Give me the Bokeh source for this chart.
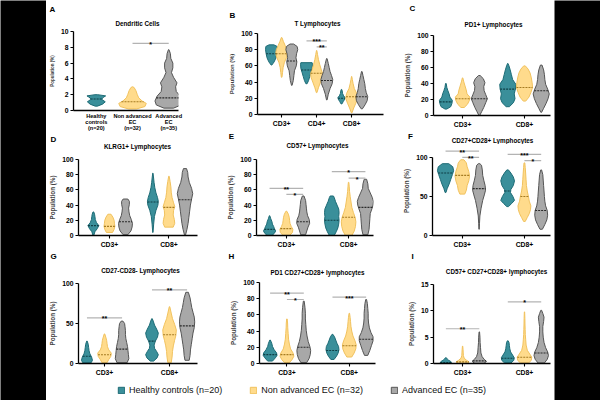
import numpy as np
from bokeh.plotting import figure
from bokeh.layouts import row, column
from bokeh.models import Range1d, FixedTicker, Legend, LegendItem
from bokeh.core.properties import value
from bokeh.embed import file_html
from bokeh.resources import INLINE

# ---------------- data ----------------
series = ["Healthy controls (n=20)", "Non advanced EC (n=32)", "Advanced EC (n=35)"]

# Panel A: Dendritic Cells (one violin per category): (value, relative half-width)
A_categories = ["Healthy\ncontrols\n(n=20)", "Non advanced\nEC\n(n=32)", "Advanced\nEC\n(n=35)"]
A_violins = {
    "all": [
        [(0.55, .08), (0.8, .45), (1.1, .65), (1.4, .4), (1.6, .45), (1.85, .68), (2.0, .1)],
        [(0.2, .3), (0.5, .9), (0.9, 1.0), (1.2, .7), (1.6, .45), (2.0, .35), (2.5, .25), (2.9, .12), (3.0, .02)],
        [(0.3, .35), (0.7, .9), (1.2, 1.0), (1.8, .85), (2.4, .55), (3.0, .5), (3.5, .6), (4.2, .35),
         (4.8, .2), (5.4, .3), (6.0, .3), (6.6, .15), (7.2, .12), (7.7, .02)],
    ]
}
A_medians = {"all": [1.45, 1.1, 1.6]}
A_sig = [("all", 1, 2, 8.5, "*")]

# Panel B: T Lymphocytes
B_groups = ["CD3+", "CD4+", "CD8+"]
B_violins = {
    "CD3+": [
        [(61, .05), (65, .45), (70, .75), (75, .9), (80, 1.0), (84, .95), (86, .4)],
        [(46, .05), (52, .15), (58, .25), (64, .45), (70, .8), (75, 1.0), (80, .9), (85, .6), (90, .3), (95, .05)],
        [(36, .05), (42, .25), (48, .35), (54, .45), (60, .75), (65, .85), (70, .7), (75, .8), (80, 1.0), (84, .9), (87, .3)],
    ],
    "CD4+": [
        [(38, .1), (42, .35), (47, .55), (52, .75), (57, .95), (62, 1.0), (64, .95)],
        [(27, .05), (33, .3), (40, .65), (46, .95), (51, 1.0), (56, .75), (62, .5), (68, .3), (74, .15), (79, .03)],
        [(18, .05), (25, .25), (32, .55), (38, .9), (43, 1.0), (48, .8), (53, .55), (58, .4), (63, .25), (69, .05)],
    ],
    "CD8+": [
        [(13, .06), (16, .3), (19, .55), (21, .6), (23, .36), (26, .18), (29, .12), (31, .03)],
        [(2, .05), (8, .35), (14, .7), (20, 1.0), (26, .85), (32, .45), (38, .25), (43, .12), (47, .02)],
        [(7, .1), (12, .55), (17, .9), (22, 1.0), (27, .75), (32, .6), (38, .5), (43, .35), (48, .2), (53, .05)],
    ],
}
B_medians = {"CD3+": [75, 75, 66], "CD4+": [55, 51, 42], "CD8+": [20, 22, 22]}
B_sig = [("CD4+", 0, 2, 91, "***"), ("CD4+", 1, 2, 83.5, "**")]

# Panel C: PD1+ Lymphocytes
C_groups = ["CD3+", "CD8+"]
C_violins = {
    "CD3+": [
        [(8, .1), (11, .6), (15, .75), (19, .8), (23, .5), (27, .4), (31, .25), (35, .12), (40, .04)],
        [(10, .2), (14, .6), (19, .85), (23, .9), (27, .55), (32, .45), (37, .3), (42, .15), (47, .03)],
        [(0, .05), (5, .3), (10, .55), (16, .8), (21, 1.0), (26, .8), (31, .6), (36, .55), (41, .7), (46, .5), (50, .1)],
    ],
    "CD8+": [
        [(11, .2), (16, .7), (21, .9), (27, .8), (33, .95), (39, 1.0), (45, .6), (51, .45), (57, .3), (62, .15), (65, .03)],
        [(18, .15), (23, .55), (29, .8), (35, 1.0), (41, .95), (47, .85), (53, .7), (58, .45), (62, .1)],
        [(4, .05), (9, .3), (15, .6), (21, .85), (27, 1.0), (33, .8), (39, .55), (45, .45), (51, .4), (57, .3), (63, .1)],
    ],
}
C_medians = {"CD3+": [17, 21, 21], "CD8+": [33, 35, 31]}
C_sig = []

# Panel D: KLRG1+ Lymphocytes
D_groups = ["CD3+", "CD8+"]
D_violins = {
    "CD3+": [
        [(0, .05), (5, .2), (9, .5), (13, .7), (17, .4), (21, .25), (25, .2), (28, .15), (31, .05)],
        [(4, .4), (8, .6), (12, .7), (16, .65), (20, .6), (24, .45), (28, .2)],
        [(1, .3), (6, .7), (11, .85), (16, .9), (21, .75), (26, .55), (31, .45), (36, .4), (41, .5), (45, .5), (48, .3)],
    ],
    "CD8+": [
        [(4, .02), (15, .1), (25, .2), (33, .4), (40, .65), (45, .7), (50, .6), (56, .4), (63, .25), (70, .15), (77, .08), (82, .02)],
        [(11, .55), (16, .75), (21, .7), (27, .55), (33, .6), (38, .75), (43, .6), (50, .4), (57, .3), (64, .25), (71, .15), (78, .03)],
        [(0, .05), (8, .25), (16, .4), (24, .5), (32, .6), (40, .7), (48, .85), (55, 1.0), (62, .85), (70, .55), (77, .4), (83, .35), (88, .2)],
    ],
}
D_medians = {"CD3+": [13, 12, 18], "CD8+": [44, 37, 47]}
D_sig = []

# Panel E: CD57+ Lymphocytes
E_groups = ["CD3+", "CD8+"]
E_violins = {
    "CD3+": [
        [(0, .3), (3, .6), (6, .75), (9, .6), (12, .5), (15, .35), (18, .3), (22, .15), (26, .03)],
        [(0, .4), (4, .75), (8, .8), (12, .6), (16, .45), (20, .4), (24, .35), (28, .25), (32, .05)],
        [(1, .3), (6, .45), (11, .6), (16, .8), (21, .75), (26, .55), (31, .45), (36, .4), (41, .35), (46, .3), (52, .1)],
    ],
    "CD8+": [
        [(0, .3), (5, .55), (10, .75), (15, .85), (20, .9), (25, .85), (30, .9), (35, .85), (40, .65), (45, .45), (50, .3), (52, .2)],
        [(0, .4), (6, .7), (12, .85), (18, .9), (24, .8), (30, .6), (37, .4), (44, .3), (51, .2), (58, .12), (64, .08), (70, .03)],
        [(1, .3), (8, .45), (15, .5), (22, .55), (29, .6), (35, .8), (40, .95), (45, 1.0), (50, .85), (56, .6), (62, .35), (68, .3), (74, .15)],
    ],
}
E_medians = {"CD3+": [8, 9, 18], "CD8+": [20, 24, 37]}
E_sig = [("CD3+", 0, 2, 62, "**"), ("CD3+", 1, 2, 54, "*"), ("CD8+", 0, 2, 84, "*"), ("CD8+", 1, 2, 75.6, "*")]

# Panel F: CD27+CD28+ Lymphocytes
F_groups = ["CD3+", "CD8+"]
F_violins = {
    "CD3+": [
        [(55, .05), (60, .2), (66, .45), (72, .65), (78, .85), (83, 1.0), (88, .9), (92, .4)],
        [(53, .3), (58, .5), (64, .6), (70, .8), (76, .9), (82, .8), (88, .6), (93, .5), (97, .2)],
        [(8, .02), (15, .05), (25, .1), (35, .25), (45, .45), (52, .65), (58, .8), (64, .75), (70, .6), (77, .45), (84, .4), (90, .3), (92, .1)],
    ],
    "CD8+": [
        [(37, .1), (41, .5), (45, .85), (50, .65), (55, .35), (59, .4), (64, .7), (70, .85), (75, .7), (80, .4), (84, .1)],
        [(18, .1), (23, .35), (28, .6), (33, .75), (38, .8), (44, .6), (50, .5), (57, .35), (64, .25), (72, .2), (80, .15), (87, .1), (93, .05)],
        [(8, .15), (14, .45), (20, .7), (26, .8), (32, .75), (38, .55), (44, .45), (50, .4), (57, .35), (64, .3), (71, .25), (78, .2), (84, .05)],
    ],
}
F_medians = {"CD3+": [80, 77, 60], "CD8+": [57, 50, 32]}
F_sig = [("CD3+", 0, 2, 108, "**"), ("CD3+", 1, 2, 100, "**"), ("CD8+", 0, 2, 104, "***"), ("CD8+", 1, 2, 96, "*")]

# Panel G: CD27-CD28- Lymphocytes
G_groups = ["CD3+", "CD8+"]
G_violins = {
    "CD3+": [
        [(1, .5), (4, .65), (8, .55), (12, .35), (16, .25), (20, .2), (24, .15), (28, .03)],
        [(1, .3), (5, .5), (9, .75), (13, .8), (17, .5), (21, .35), (25, .3), (29, .25), (33, .15), (37, .03)],
        [(1, .6), (6, .8), (11, .75), (16, .7), (21, .65), (26, .55), (31, .45), (36, .4), (41, .4), (46, .35), (50, .3), (53, .1)],
    ],
    "CD8+": [
        [(3, .2), (7, .6), (11, .75), (15, .55), (19, .3), (23, .25), (28, .4), (33, .65), (38, .75), (43, .55), (48, .3), (53, .15), (56, .03)],
        [(1, .2), (8, .3), (15, .35), (22, .45), (29, .6), (35, .75), (42, .8), (49, .6), (56, .35), (63, .2), (71, .03)],
        [(4, .25), (10, .35), (17, .4), (24, .5), (31, .6), (38, .7), (45, .85), (52, .9), (58, .85), (64, .7), (70, .55), (76, .45), (82, .35), (89, .15)],
    ],
}
G_medians = {"CD3+": [9, 11, 18], "CD8+": [28, 36, 47]}
G_sig = [("CD3+", 0, 2, 57, "**"), ("CD8+", 0, 2, 92, "**")]

# Panel H: PD1 CD27+CD28+ lymphocytes
H_groups = ["CD3+", "CD8+"]
H_violins = {
    "CD3+": [
        [(3, .3), (7, .65), (10, .85), (13, .8), (17, .5), (21, .3), (25, .2), (29, .03)],
        [(1, .3), (5, .65), (9, .85), (13, .75), (18, .45), (24, .3), (30, .2), (37, .15), (44, .1), (50, .08), (55, .03)],
        [(1, .35), (6, .65), (11, .8), (16, .85), (21, .75), (27, .55), (34, .4), (41, .3), (48, .25), (55, .2), (62, .2), (69, .15), (77, .05)],
    ],
    "CD8+": [
        [(5, .2), (9, .5), (13, .7), (17, .8), (21, .75), (25, .55), (29, .4), (33, .25), (36, .05)],
        [(8, .3), (13, .6), (18, .8), (23, .85), (28, .7), (34, .45), (40, .3), (46, .2), (52, .15), (57, .1), (62, .03)],
        [(10, .2), (16, .45), (22, .65), (28, .85), (33, .85), (38, .6), (44, .4), (50, .3), (56, .25), (62, .25), (68, .2), (74, .15), (79, .05)],
    ],
}
H_medians = {"CD3+": [11, 11, 20], "CD8+": [16, 22, 30]}
H_sig = [("CD3+", 0, 2, 87, "**"), ("CD3+", 1, 2, 79, "*"), ("CD8+", 0, 2, 82, "***")]

# Panel I: CD57+ CD27+CD28+ lymphocytes
I_groups = ["CD3+", "CD8+"]
I_violins = {
    "CD3+": [
        [(0, .5), (0.2, .7), (0.4, .6), (0.6, .35), (0.8, .2), (1.1, .05)],
        [(0, .5), (0.3, .8), (0.6, .5), (1.0, .2), (1.5, .1), (2.0, .08), (2.6, .06), (3.3, .02)],
        [(0, .55), (0.4, .9), (0.8, .6), (1.3, .35), (2.0, .2), (3.0, .15), (4.0, .1), (5.0, .08), (6.0, .03)],
    ],
    "CD8+": [
        [(0.1, .4), (0.6, .75), (1.1, .8), (1.6, .6), (2.2, .35), (2.8, .25), (3.4, .2), (4.0, .15), (4.3, .05)],
        [(0.1, .5), (0.6, .85), (1.2, .9), (1.8, .65), (2.5, .35), (3.5, .2), (4.5, .15), (5.5, .1), (6.5, .08), (7.5, .06), (8.5, .05), (9.8, .02)],
        [(0.1, .4), (0.8, .75), (1.5, .9), (2.2, .8), (3.0, .55), (4.0, .35), (5.0, .25), (6.0, .2), (7.0, .2), (8.0, .3), (8.8, .35), (9.5, .2), (10.1, .05)],
    ],
}
I_medians = {"CD3+": [0.2, 0.3, 0.5], "CD8+": [1.0, 1.2, 2.0]}
I_sig = [("CD3+", 0, 2, 6.6, "**"), ("CD8+", 0, 2, 11.7, "*")]

# ---------------- styling ----------------
FILL = ["#3a8f9a", "#ffdb8c", "#a8a8a8"]
LINE = ["#1d6b75", "#f1c25e", "#555555"]
MED = ["#0e3f46", "#a57b22", "#2a2a2a"]
FONT = "Liberation Sans"


def blank(w, h, color="white"):
    b = figure(width=w, height=h, output_backend="svg", toolbar_location=None, min_border=0, title=None,
               x_range=Range1d(0, w), y_range=Range1d(h, 0), x_axis_location=None, y_axis_location=None)
    b.frame_align = False
    b.grid.visible = False
    b.outline_line_color = None
    b.background_fill_color = color
    b.border_fill_color = color
    return b


def make_panel(cfg):
    ox, oy, w, h, ml, mr, mt, mb = cfg["geom"]
    s = cfg["strip"]          # height of the heading strip above the plot
    # heading strip: panel letter + panel title (pixel-based ranges, y downward)
    st = blank(w, s)
    lx, ly = cfg["letter_xy"]
    tx_, ty_ = cfg["title_xy"]
    st.text(x=[lx - ox], y=[ly - oy], text=[cfg["letter"]], text_font=value(FONT), text_font_style="bold",
            text_font_size="8px", text_align="center", text_baseline="middle", text_color="black")
    st.text(x=[tx_ - ox], y=[ty_ - oy], text=[cfg["title"]], text_font=value(FONT), text_font_style="bold",
            text_font_size="6.3px", text_align="center", text_baseline="middle", text_color="black")

    p = figure(width=w, height=h - s, output_backend="svg", toolbar_location=None, title=None,
               x_range=Range1d(*cfg["xr"]), y_range=Range1d(0, cfg["ytop"]),
               min_border_left=ml, min_border_right=mr, min_border_top=mt - s, min_border_bottom=mb)
    p.frame_align = False
    p.outline_line_color = None
    p.grid.visible = False
    p.background_fill_color = "white"
    p.border_fill_color = "white"

    groups, violins, medians = cfg["groups"], cfg["violins"], cfg["medians"]

    def xpos(gi, mi):
        if cfg["single"]:
            return 1 + mi
        return 1 + gi + (mi - 1) * cfg["off"]

    xs_all, ys_all, fills, lines = [], [], [], []
    mx0, mx1, my, mc = [], [], [], []
    for gi, g in enumerate(groups):
        for mi, prof in enumerate(violins[g]):
            cx = xpos(gi, mi)
            yv = [a for a, b in prof]
            wv = [b * cfg["halfw"] for a, b in prof]
            xs_all.append([cx + q for q in wv] + [cx - q for q in wv[::-1]])
            ys_all.append(yv + yv[::-1])
            fills.append(FILL[mi])
            lines.append(LINE[mi])
            med = medians[g][mi]
            wm = float(np.interp(med, yv, wv))
            mx0.append(cx - wm)
            mx1.append(cx + wm)
            my.append(med)
            mc.append(MED[mi])
    p.patches(xs_all, ys_all, fill_color=fills, line_color=lines, line_width=1)
    p.segment(x0=mx0, y0=my, x1=mx1, y1=my, line_color=mc, line_width=1.1, line_dash="2 1")

    # significance bars
    sx0, sx1, sy, tx, tl = [], [], [], [], []
    for g, m1, m2, yv, lab in cfg["sig"]:
        gi = groups.index(g)
        a, b = xpos(gi, m1), xpos(gi, m2)
        sx0.append(a); sx1.append(b); sy.append(yv)
        tx.append((a + b) / 2); tl.append(lab)
    if sx0:
        p.segment(x0=sx0, y0=sy, x1=sx1, y1=sy, line_color="#b3b3b3", line_width=1.2)
        p.text(x=tx, y=sy, text=tl, text_align="center", text_baseline="alphabetic", text_font=value(FONT),
               text_font_size="7px", text_font_style="bold", text_color="black", y_offset=1)

    # axes
    ax, ay = p.xaxis[0], p.yaxis[0]
    for a in (ax, ay):
        a.axis_line_color = "black"
        a.axis_line_width = 1.3
        a.major_tick_line_color = "black"
        a.major_tick_line_width = 1.1
        a.major_tick_in = 0
        a.major_tick_out = 3
        a.minor_tick_line_color = None
        a.major_label_text_font = FONT
        a.major_label_text_font_style = "bold"
        a.major_label_text_color = "black"
    ay.ticker = FixedTicker(ticks=cfg["yticks"])
    ay.bounds = (0, cfg["yaxis_top"])
    ay.major_label_text_font_size = "6.8px"
    ay.major_label_standoff = 2
    ay.axis_label = "Population (%)"
    ay.axis_label_text_font = FONT
    ay.axis_label_text_font_style = "bold"
    ay.axis_label_text_font_size = cfg["ylab_size"]
    ay.axis_label_standoff = 3
    if cfg["single"]:
        ax.ticker = FixedTicker(ticks=[1, 2, 3])
        ax.major_label_overrides = {i + 1: c for i, c in enumerate(cfg["cats"])}
        ax.major_label_text_font_size = "5.6px"
        ax.major_label_text_line_height = 1.0
        ax.major_tick_out = 0
    else:
        ax.ticker = FixedTicker(ticks=[i + 1 for i in range(len(groups))])
        ax.major_label_overrides = {i + 1: g for i, g in enumerate(groups)}
        ax.major_label_text_font_size = "6.8px"
    ax.major_label_standoff = 2
    return [st, p]


common2 = dict(single=False, off=0.27, halfw=0.13, ylab_size="6.3px")
cfgs = {
    "A": dict(single=True, groups=["all"], violins=A_violins, medians=A_medians, sig=A_sig, cats=A_categories,
              halfw=0.38, xr=(0.37, 3.27), ytop=10, yaxis_top=10, yticks=[0, 2, 4, 6, 8, 10], ylab_size="4.5px",
              geom=(46, 0, 169, 135, 26, 37, 31, 25), strip=27, letter="A", letter_xy=(52, 9),
              title="Dendritic Cells", title_xy=(137, 23)),
    "B": dict(single=False, off=0.29, halfw=0.17, groups=B_groups, violins=B_violins, medians=B_medians, sig=B_sig,
              xr=(0.31, 3.91), ytop=100, yaxis_top=100, yticks=[0, 20, 40, 60, 80, 100], ylab_size="5.8px",
              geom=(215, 0, 177, 131, 42, 9, 33, 17), strip=28, letter="B", letter_xy=(232, 15),
              title="T Lymphocytes", title_xy=(317, 23)),
    "C": dict(common2, groups=C_groups, violins=C_violins, medians=C_medians, sig=C_sig,
              xr=(0.53, 2.42), ytop=100, yaxis_top=100, yticks=[0, 20, 40, 60, 80, 100],
              geom=(392, 0, 162, 131, 41, 4, 35, 16), strip=30, letter="C", letter_xy=(412, 8),
              title="PD1+ Lymphocytes", title_xy=(493, 24)),
    "D": dict(common2, groups=D_groups, violins=D_violins, medians=D_medians, sig=D_sig,
              xr=(0.48, 2.48), ytop=100, yaxis_top=100, yticks=[0, 20, 40, 60, 80, 100],
              geom=(46, 135, 169, 115, 27, 18, 24, 12), strip=19, letter="D", letter_xy=(53, 139),
              title="KLRG1+ Lymphocytes", title_xy=(137, 146)),
    "E": dict(common2, groups=E_groups, violins=E_violins, medians=E_medians, sig=E_sig,
              xr=(0.52, 2.40), ytop=100, yaxis_top=100, yticks=[0, 20, 40, 60, 80, 100],
              geom=(215, 131, 177, 119, 41, 19, 28, 12), strip=23, letter="E", letter_xy=(231, 136),
              title="CD57+ Lymphocytes", title_xy=(317, 145)),
    "F": dict(common2, groups=F_groups, violins=F_violins, medians=F_medians, sig=F_sig,
              xr=(0.52, 2.42), ytop=114, yaxis_top=100, yticks=[0, 50, 100],
              geom=(392, 131, 162, 119, 40, 4, 15, 13), strip=13, letter="F", letter_xy=(410, 136),
              title="CD27+CD28+ Lymphocytes", title_xy=(492, 140)),
    "G": dict(common2, groups=G_groups, violins=G_violins, medians=G_medians, sig=G_sig,
              xr=(0.6, 2.43), ytop=100, yaxis_top=100, yticks=[0, 50, 100],
              geom=(46, 250, 169, 131, 32, 18, 33, 18), strip=28, letter="G", letter_xy=(53, 256),
              title="CD27-CD28- Lymphocytes", title_xy=(140, 270)),
    "H": dict(common2, groups=H_groups, violins=H_violins, medians=H_medians, sig=H_sig,
              xr=(0.56, 2.42), ytop=100, yaxis_top=100, yticks=[0, 20, 40, 60, 80, 100],
              geom=(215, 250, 177, 131, 44, 17, 32, 18), strip=27, letter="H", letter_xy=(231, 256),
              title="PD1 CD27+CD28+ lymphocytes", title_xy=(317, 272)),
    "I": dict(common2, groups=I_groups, violins=I_violins, medians=I_medians, sig=I_sig,
              xr=(0.53, 2.42), ytop=15, yaxis_top=15, yticks=[0, 5, 10, 15],
              geom=(392, 250, 162, 131, 41, 4, 34, 18), strip=29, letter="I", letter_xy=(412, 256),
              title="CD57+ CD27+CD28+ lymphocytes", title_xy=(496, 271)),
}
panels = {k: make_panel(v) for k, v in cfgs.items()}

# legend strip (the swatch glyphs sit outside the visible range; only the legend shows them)
lg = figure(width=508, height=19, output_backend="svg", toolbar_location=None, min_border=0, title=None,
            x_range=Range1d(0, 1), y_range=Range1d(0, 1), x_axis_location=None, y_axis_location=None)
lg.frame_align = False
lg.grid.visible = False
lg.outline_line_color = None
lg.background_fill_color = "white"
lg.border_fill_color = "white"
items = []
for i, s in enumerate(series):
    r = lg.quad(left=[5], right=[6], top=[5], bottom=[4], fill_color=FILL[i], line_color=LINE[i], line_width=1)
    items.append(LegendItem(label=s, renderers=[r]))
leg = Legend(items=items, orientation="horizontal", location=(71, 5), padding=0, margin=0,
             border_line_color=None, background_fill_alpha=0, glyph_width=8, glyph_height=8,
             label_standoff=4, spacing=27, label_height=9, label_text_font=FONT,
             label_text_font_size="9px", label_text_color="#111111")
lg.add_layout(leg)

colA = column(*panels["A"], *panels["D"], *panels["G"], spacing=0)
colB = column(*panels["B"], *panels["E"], *panels["H"], spacing=0)
colC = column(*panels["C"], *panels["F"], *panels["I"], spacing=0)
middle = column(row(colA, colB, colC, spacing=0), lg, spacing=0)
layout = row(blank(46, 400, "black"), middle, blank(46, 400, "black"), spacing=0)

open("out.html", "w").write(file_html(layout, INLINE))
